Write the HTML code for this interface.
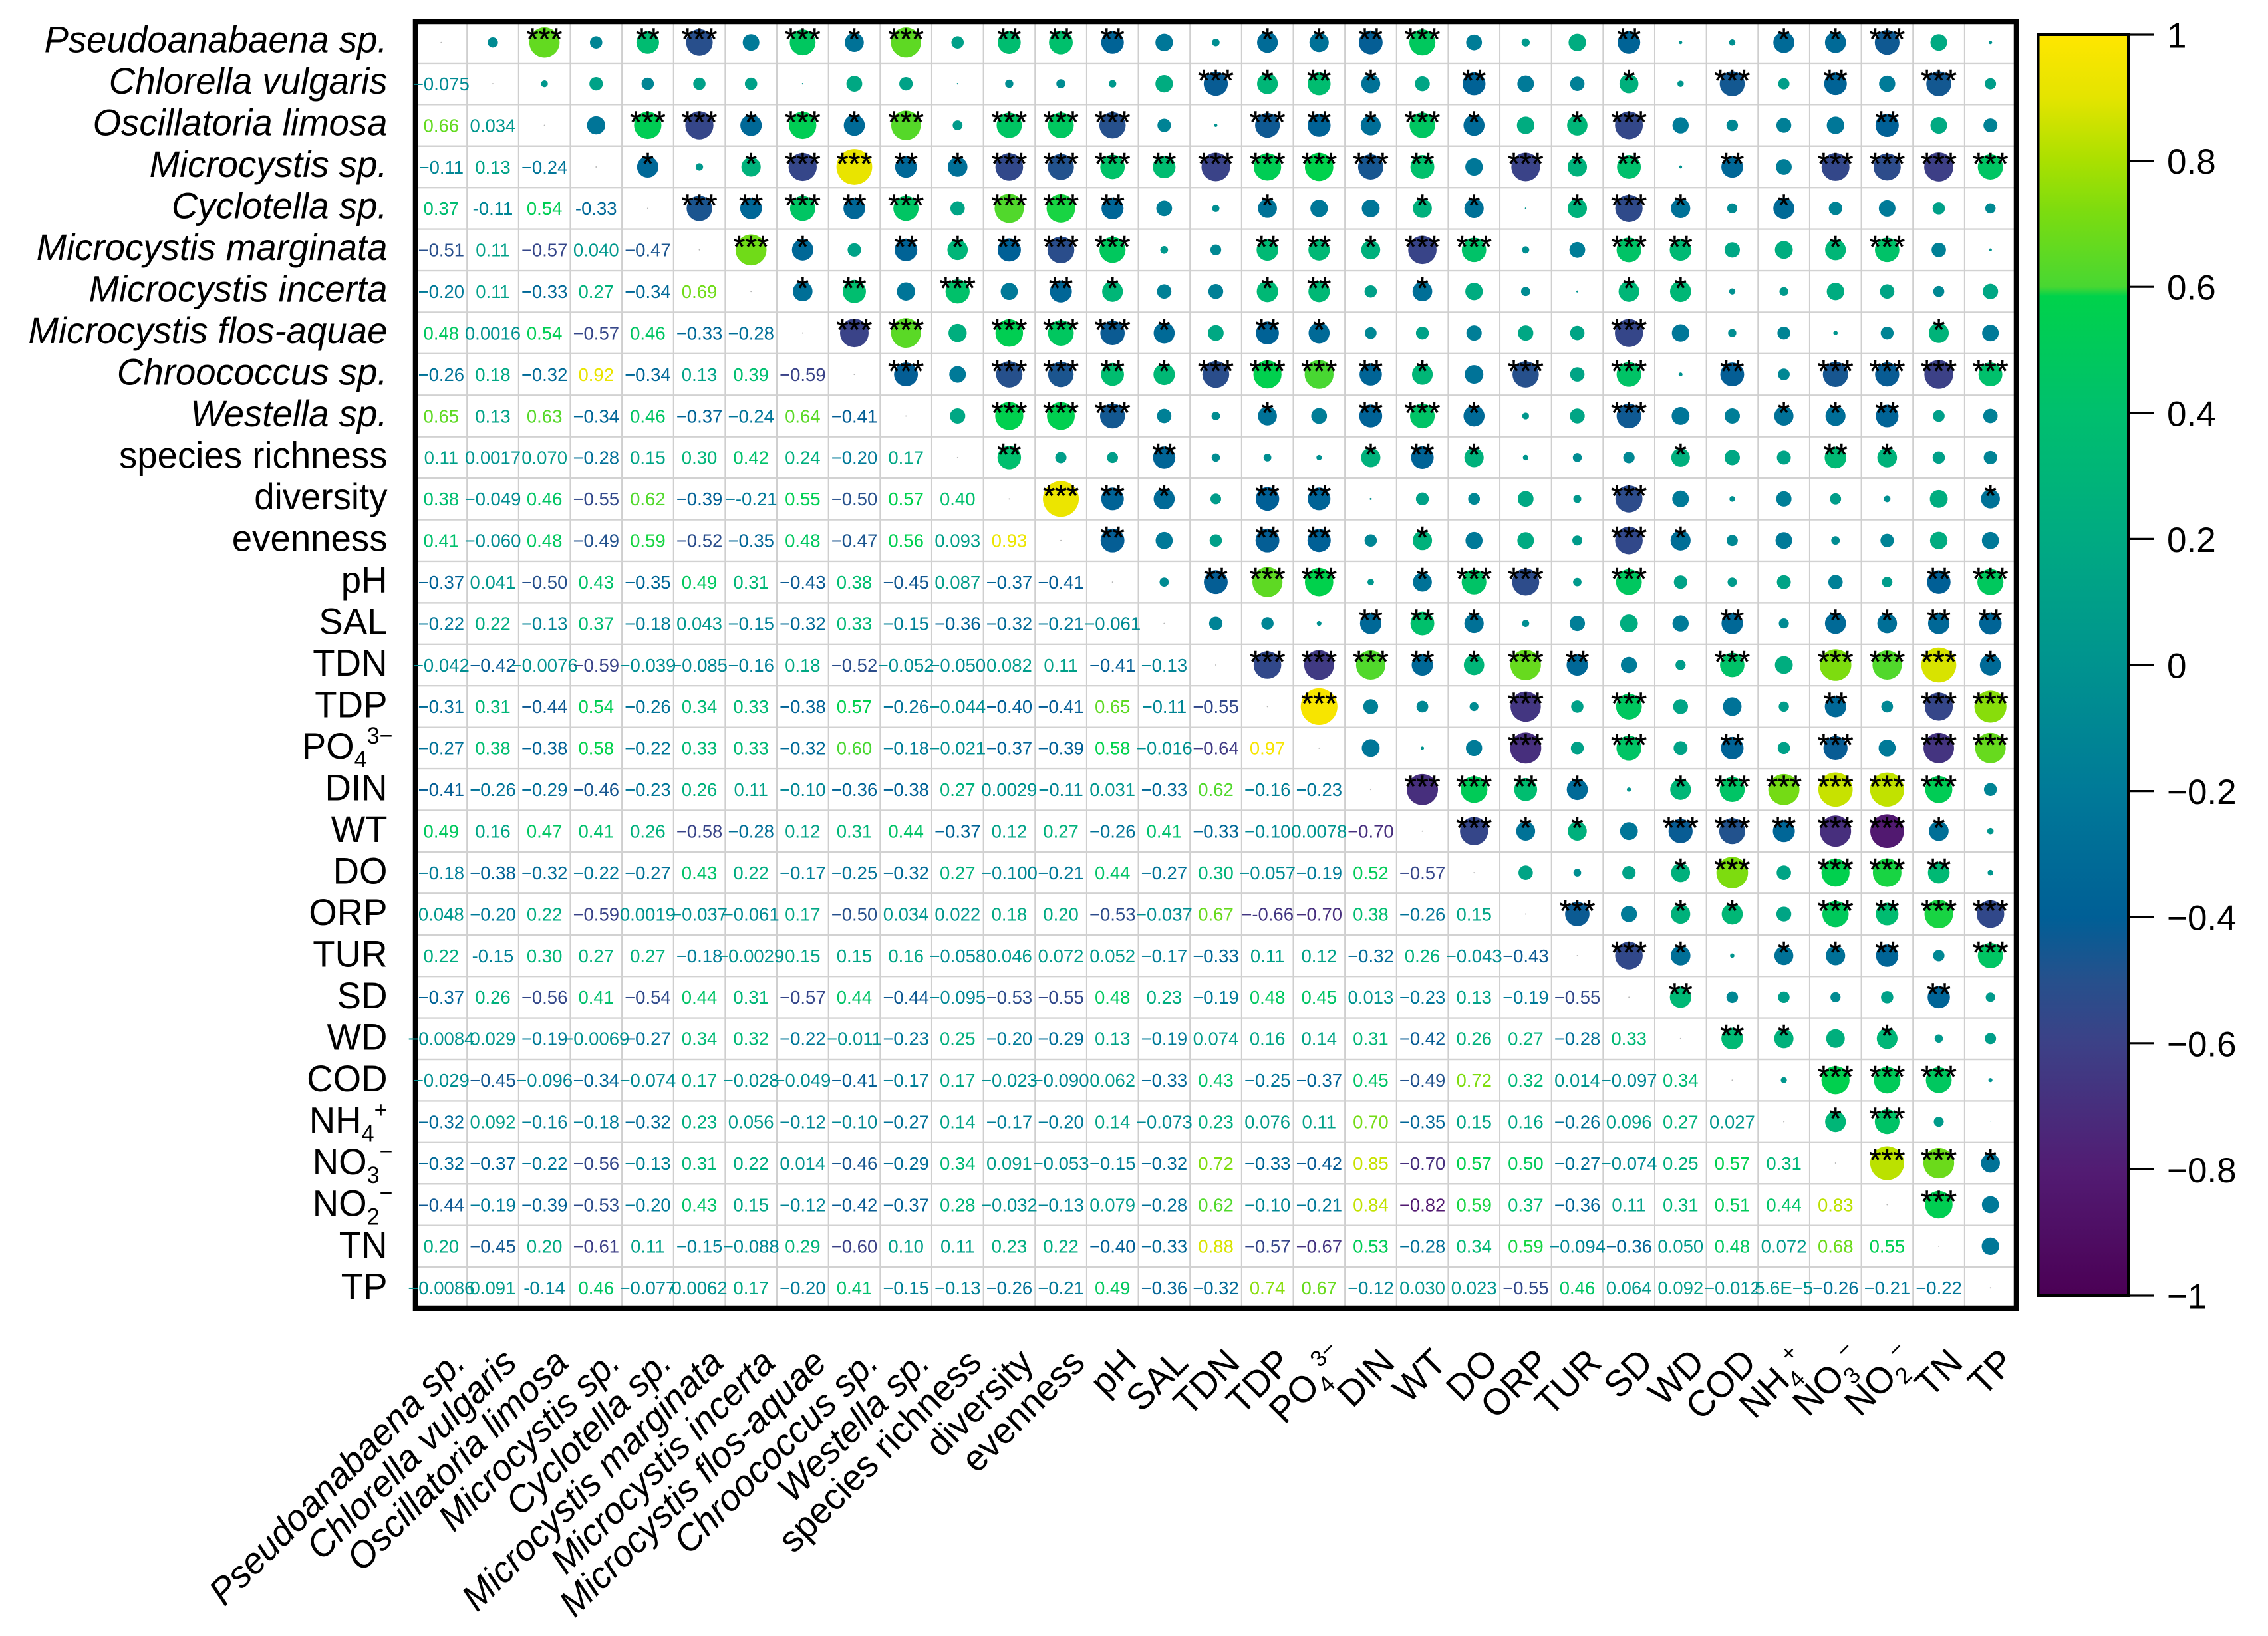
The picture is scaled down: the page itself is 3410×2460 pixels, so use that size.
<!DOCTYPE html>
<html lang="en">
<head>
<meta charset="utf-8">
<title>Correlation matrix</title>
<style>
html,body{margin:0;padding:0;background:#fff;}
svg{display:block;font-family:"Liberation Sans",sans-serif;}
</style>
</head>
<body>
<svg id="chart" xmlns="http://www.w3.org/2000/svg" width="3410" height="2460" viewBox="0 0 3410 2460">
<rect x="0" y="0" width="3410" height="2460" fill="#ffffff"/>
<defs><linearGradient id="cbar" x1="0" y1="0" x2="0" y2="1"></linearGradient></defs>
<g id="grid"></g>
<g id="circles"></g>
<rect x="624.5" y="32.5" width="2407" height="1935" fill="none" stroke="#000" stroke-width="7.5"/>
<g id="values"></g>
<g id="stars"></g>
<g id="yLabels"></g>
<g id="xLabels"></g>
<g id="colorbar"></g>
</svg>
<script>
const categories = ["Pseudoanabaena sp.","Chlorella vulgaris","Oscillatoria limosa","Microcystis sp.","Cyclotella sp.","Microcystis marginata","Microcystis incerta","Microcystis flos-aquae","Chroococcus sp.","Westella sp.","species richness","diversity","evenness","pH","SAL","TDN","TDP","PO","DIN","WT","DO","ORP","TUR","SD","WD","COD","NH","NO","NO","TN","TP"];
const italicCount = 10;
const categorySub = {17:"4",26:"4",27:"3",28:"2"};
const categorySup = {17:"3\u2212",26:"+",27:"\u2212",28:"\u2212"};

/* lower triangle of the correlation matrix, row by row */
const correlationRows = [
[],
[-0.075],
[0.66,0.034],
[-0.11,0.13,-0.24],
[0.37,-0.11,0.54,-0.33],
[-0.51,0.11,-0.57,0.040,-0.47],
[-0.20,0.11,-0.33,0.27,-0.34,0.69],
[0.48,0.0016,0.54,-0.57,0.46,-0.33,-0.28],
[-0.26,0.18,-0.32,0.92,-0.34,0.13,0.39,-0.59],
[0.65,0.13,0.63,-0.34,0.46,-0.37,-0.24,0.64,-0.41],
[0.11,0.0017,0.070,-0.28,0.15,0.30,0.42,0.24,-0.20,0.17],
[0.38,-0.049,0.46,-0.55,0.62,-0.39,-0.21,0.55,-0.50,0.57,0.40],
[0.41,-0.060,0.48,-0.49,0.59,-0.52,-0.35,0.48,-0.47,0.56,0.093,0.93],
[-0.37,0.041,-0.50,0.43,-0.35,0.49,0.31,-0.43,0.38,-0.45,0.087,-0.37,-0.41],
[-0.22,0.22,-0.13,0.37,-0.18,0.043,-0.15,-0.32,0.33,-0.15,-0.36,-0.32,-0.21,-0.061],
[-0.042,-0.42,-0.0076,-0.59,-0.039,-0.085,-0.16,0.18,-0.52,-0.052,-0.050,0.082,0.11,-0.41,-0.13],
[-0.31,0.31,-0.44,0.54,-0.26,0.34,0.33,-0.38,0.57,-0.26,-0.044,-0.40,-0.41,0.65,-0.11,-0.55],
[-0.27,0.38,-0.38,0.58,-0.22,0.33,0.33,-0.32,0.60,-0.18,-0.021,-0.37,-0.39,0.58,-0.016,-0.64,0.97],
[-0.41,-0.26,-0.29,-0.46,-0.23,0.26,0.11,-0.10,-0.36,-0.38,0.27,0.0029,-0.11,0.031,-0.33,0.62,-0.16,-0.23],
[0.49,0.16,0.47,0.41,0.26,-0.58,-0.28,0.12,0.31,0.44,-0.37,0.12,0.27,-0.26,0.41,-0.33,-0.10,0.0078,-0.70],
[-0.18,-0.38,-0.32,-0.22,-0.27,0.43,0.22,-0.17,-0.25,-0.32,0.27,-0.100,-0.21,0.44,-0.27,0.30,-0.057,-0.19,0.52,-0.57],
[0.048,-0.20,0.22,-0.59,0.0019,-0.037,-0.061,0.17,-0.50,0.034,0.022,0.18,0.20,-0.53,-0.037,0.67,-0.66,-0.70,0.38,-0.26,0.15],
[0.22,-0.15,0.30,0.27,0.27,-0.18,-0.0029,0.15,0.15,0.16,-0.058,0.046,0.072,0.052,-0.17,-0.33,0.11,0.12,-0.32,0.26,-0.043,-0.43],
[-0.37,0.26,-0.56,0.41,-0.54,0.44,0.31,-0.57,0.44,-0.44,-0.095,-0.53,-0.55,0.48,0.23,-0.19,0.48,0.45,0.013,-0.23,0.13,-0.19,-0.55],
[-0.0084,0.029,-0.19,-0.0069,-0.27,0.34,0.32,-0.22,-0.011,-0.23,0.25,-0.20,-0.29,0.13,-0.19,0.074,0.16,0.14,0.31,-0.42,0.26,0.27,-0.28,0.33],
[-0.029,-0.45,-0.096,-0.34,-0.074,0.17,-0.028,-0.049,-0.41,-0.17,0.17,-0.023,-0.090,0.062,-0.33,0.43,-0.25,-0.37,0.45,-0.49,0.72,0.32,0.014,-0.097,0.34],
[-0.32,0.092,-0.16,-0.18,-0.32,0.23,0.056,-0.12,-0.10,-0.27,0.14,-0.17,-0.20,0.14,-0.073,0.23,0.076,0.11,0.70,-0.35,0.15,0.16,-0.26,0.096,0.27,0.027],
[-0.32,-0.37,-0.22,-0.56,-0.13,0.31,0.22,0.014,-0.46,-0.29,0.34,0.091,-0.053,-0.15,-0.32,0.72,-0.33,-0.42,0.85,-0.70,0.57,0.50,-0.27,-0.074,0.25,0.57,0.31],
[-0.44,-0.19,-0.39,-0.53,-0.20,0.43,0.15,-0.12,-0.42,-0.37,0.28,-0.032,-0.13,0.079,-0.28,0.62,-0.10,-0.21,0.84,-0.82,0.59,0.37,-0.36,0.11,0.31,0.51,0.44,0.83],
[0.20,-0.45,0.20,-0.61,0.11,-0.15,-0.088,0.29,-0.60,0.10,0.11,0.23,0.22,-0.40,-0.33,0.88,-0.57,-0.67,0.53,-0.28,0.34,0.59,-0.094,-0.36,0.050,0.48,0.072,0.68,0.55],
[-0.0086,0.091,-0.14,0.46,-0.077,0.0062,0.17,-0.20,0.41,-0.15,-0.13,-0.26,-0.21,0.49,-0.36,-0.32,0.74,0.67,-0.12,0.030,0.023,-0.55,0.46,0.064,0.092,-0.012,0.000056,-0.26,-0.21,-0.22]
];

/* significance stars for the upper triangle: one digit per column right of the diagonal */
const starRows = [
"030230313022200112300020011300",
"00000000000003121020010302030",
"0331313033300321310130000200",
"101332133323333203120203333",
"32323033200100110131010000",
"3102123300221330032001300",
"120302100120100011000000",
"33033310210000030000010",
"3033213332103030203333",
"033300102310030011200",
"20020001210001002100",
"3210220000030000001",
"200220100031000000",
"02330133030000023",
"0002210000201122",
"333213200303331",
"30003030002033",
"0003030203033",
"332101333330",
"31103323310",
"0001303320",
"301103233",
"31011203",
"2000020",
"210100",
"03330",
"1300",
"331",
"30",
"0",
""
];

const colorbarTicks = [1,0.8,0.6,0.4,0.2,0,-0.2,-0.4,-0.6,-0.8,-1];
const colormapValues = [1,0.9,0.8,0.72,0.6,0.585,0.4,0.2,0,-0.2,-0.4,-0.5,-0.6,-0.8,-1];
const colormapReds =   [255,228,170,125,72,0,0,0,0,0,0,38,60,82,75];
const colormapGreens = [230,228,224,220,215,210,191,170,147,122,95,80,65,28,0];
const colormapBlues =  [0,0,0,15,50,75,110,130,143,152,150,140,135,115,85];

/* sign glyph and precision quirks as printed in the figure */
const printedSignStyle = {"4,1":"-","4,3":"-","22,1":"-","30,2":"-","11,6":"\u2212-","21,16":"\u2212-"};
const printedPrecision = {"20,11":3};

const NS = "http://www.w3.org/2000/svg";
const plotLeft = 624.5, plotTop = 32.5, cellW = 77.645, cellH = 62.42;
const count = categories.length;

function xCenter(j){ return plotLeft + (j + 0.5) * cellW; }
function yCenter(i){ return plotTop + (i + 0.5) * cellH; }
function xEdge(j){ return plotLeft + j * cellW; }
function yEdge(i){ return plotTop + i * cellH; }
function diameter(r){ return 56 * Math.sqrt(Math.abs(r)); }
function colorbarY(v){ return 1000 - 948 * v; }
function labelBaseline(i){ return 78.3 + 62.5 * i; }

function colorOf(r){
  const v = Math.max(-1, Math.min(1, r));
  for (let k = 0; k < colormapValues.length - 1; k++){
    const a = colormapValues[k], b = colormapValues[k + 1];
    if (v <= a && v >= b){
      const t = (a - v) / (a - b);
      const R = Math.round(colormapReds[k] + t * (colormapReds[k + 1] - colormapReds[k]));
      const G = Math.round(colormapGreens[k] + t * (colormapGreens[k + 1] - colormapGreens[k]));
      const B = Math.round(colormapBlues[k] + t * (colormapBlues[k + 1] - colormapBlues[k]));
      return "rgb(" + R + "," + G + "," + B + ")";
    }
  }
  return "rgb(0,147,143)";
}

function formatValue(r, i, j){
  const key = i + "," + j;
  const abs = Math.abs(r);
  let body;
  if (abs > 0 && abs < 0.0001){
    body = abs.toExponential(1).toUpperCase().replace("-", "\u2212").replace("E+", "E");
  } else {
    body = abs.toPrecision(printedPrecision[key] || 2);
  }
  if (r < 0) return (printedSignStyle[key] || "\u2212") + body;
  return body;
}

function make(tag, attrs, parent, text){
  const el = document.createElementNS(NS, tag);
  for (const k in attrs) el.setAttribute(k, attrs[k]);
  if (text !== undefined) el.textContent = text;
  parent.appendChild(el);
  return el;
}

const gridG = document.getElementById("grid");
const circlesG = document.getElementById("circles");
const valuesG = document.getElementById("values");
const starsG = document.getElementById("stars");
const yG = document.getElementById("yLabels");
const xG = document.getElementById("xLabels");
const cbG = document.getElementById("colorbar");

/* grid */
for (let k = 1; k < count; k++){
  const v = make("line", {x1:xEdge(k), x2:xEdge(k), y1:plotTop, y2:yEdge(count), stroke:"#cfcfcf", "stroke-width":2}, gridG);
  
  
  const h = make("line", {x1:plotLeft, x2:xEdge(count), y1:yEdge(k), y2:yEdge(k), stroke:"#d2d2d2", "stroke-width":2.4}, gridG);
  
  
}

/* matrix cells */
for (let i = 0; i < count; i++){
  const diag = make("circle", {cx:xCenter(i), cy:yCenter(i), r:1, fill:"#b8b8b8"}, circlesG);
  
  

  for (let j = 0; j < i; j++){
    const r = correlationRows[i][j];
    const t = make("text", {x:xCenter(j), y:yCenter(i) + 9.8, "text-anchor":"middle", "font-size":27.5, fill:colorOf(r)}, valuesG, formatValue(r, i, j));
    
    

    const c = make("circle", {cx:xCenter(i), cy:yCenter(j), r:diameter(r) / 2, fill:colorOf(r)}, circlesG);
    
    

    const n = parseInt(starRows[j].charAt(i - j - 1), 10) || 0;
    if (n > 0){
      const s = make("text", {x:xCenter(i), y:yCenter(j) + 11, "text-anchor":"middle", "font-size":46, fill:"#000", stroke:"#000", "stroke-width":0.6}, starsG, "*".repeat(n));
      
      
    }
  }
}

/* category labels: slightly condensed as in the figure */
const labelScaleX = 0.975;
function addLabelText(el, i){
  el.textContent = categories[i];
  if (categorySub[i]){
    make("tspan", {dy:13, "font-size":35}, el, categorySub[i]);
    make("tspan", {dy:-36, "font-size":35}, el, categorySup[i]);
  }
}
for (let i = 0; i < count; i++){
  const shift = (categorySup[i] && categorySup[i].indexOf("\u2212") >= 0) ? 8 : 0;
  const yx = 582.5 + shift, yy = labelBaseline(i);
  const yl = make("text", {x:0, y:0, "text-anchor":"end", "font-size":56, "font-style":i < italicCount ? "italic" : "normal", fill:"#000", transform:"translate(" + yx + " " + yy + ") scale(" + labelScaleX + " 1)"}, yG);
  addLabelText(yl, i);
  
  

  const ax = xCenter(i) + 39 + shift * 0.7, ay = 2052 - shift * 0.7;
  const xl = make("text", {x:0, y:0, "text-anchor":"end", "font-size":56, "font-style":i < italicCount ? "italic" : "normal", fill:"#000", transform:"translate(" + ax + " " + ay + ") rotate(-45) scale(" + labelScaleX + " 1)"}, xG);
  addLabelText(xl, i);
  
  
}

/* colorbar */
const grad = document.getElementById("cbar");
for (let k = 0; k < colormapValues.length; k++){
  const v = colormapValues[k];
  make("stop", {offset:(1 - v) / 2, "stop-color":colorOf(v)}, grad);
}
const barTop = colorbarY(1), barBottom = colorbarY(-1);
const bar = make("rect", {x:3064.5, y:barTop, width:135.5, height:barBottom - barTop, fill:"url(#cbar)", stroke:"#000", "stroke-width":4}, cbG);


for (let k = 0; k < colorbarTicks.length; k++){
  const v = colorbarTicks[k];
  const tick = make("line", {x1:3200, x2:3238, y1:colorbarY(v), y2:colorbarY(v), stroke:"#000", "stroke-width":3.2}, cbG);
  
  
  const label = (v < 0 ? "\u2212" : "") + String(Math.abs(v));
  const tl = make("text", {x:3258, y:colorbarY(v) + 19.5, "font-size":53, fill:"#000"}, cbG, label);
  
  
}
</script>
</body>
</html>
